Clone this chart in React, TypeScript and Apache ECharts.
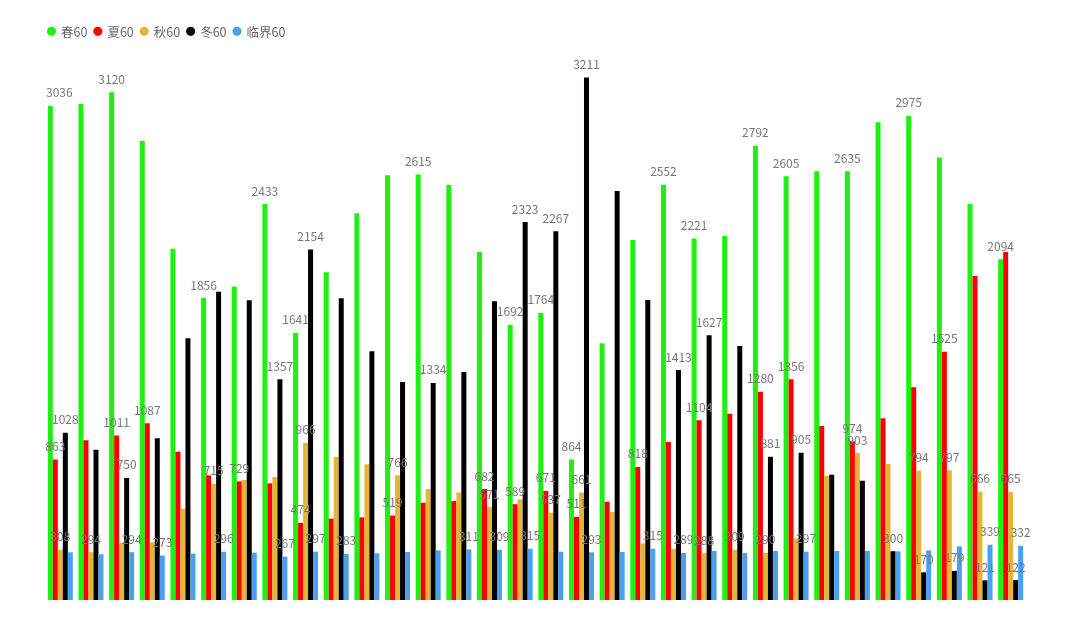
import { useEffect, useRef } from 'react';
import * as echarts from 'echarts';

const categories = ['1','2','3','4','5','6','7','8','9','10','11','12','13','14','15','16','17','18','19','20','21','22','23','24','25','26','27','28','29','30','31','32'];

const seriesNames = ['春60', '夏60', '秋60', '冬60', '临界60'];

const springValues = [3036, 3049, 3120, 2821, 2158, 1856, 1926, 2433, 1641, 2014, 2377, 2610, 2615, 2551, 2139, 1692, 1764, 864, 1578, 2213, 2552, 2221, 2237, 2792, 2605, 2635, 2635, 2936, 2975, 2719, 2434, 2094];
const summerValues = [863, 982, 1011, 1087, 911, 766, 729, 717, 474, 500, 508, 519, 598, 608, 682, 589, 671, 511, 604, 818, 971, 1104, 1145, 1280, 1356, 1069, 974, 1117, 1307, 1525, 1991, 2139];
const autumnValues = [308, 294, 352, 355, 561, 715, 738, 756, 966, 879, 834, 766, 682, 662, 571, 619, 537, 661, 541, 348, 314, 288, 309, 290, 379, 762, 903, 836, 794, 797, 666, 665];
const winterValues = [1028, 924, 750, 994, 1608, 1895, 1842, 1357, 2154, 1854, 1529, 1340, 1334, 1401, 1836, 2323, 2267, 3211, 2514, 1844, 1413, 1627, 1561, 881, 905, 770, 733, 300, 170, 179, 121, 122];
const criticalValues = [293, 281, 294, 273, 285, 296, 291, 267, 297, 283, 287, 295, 305, 311, 309, 315, 297, 293, 295, 315, 289, 301, 289, 301, 297, 301, 301, 299, 305, 330, 339, 332];

// which value labels are visible in the reference (1 = shown)
const springLabels = [1,0,1,0,0,1,0,1,1,0,0,0,1,0,0,1,1,1,0,0,1,1,0,1,1,0,1,0,1,0,0,1];
const summerLabels = [1,0,1,1,0,0,1,0,1,0,0,1,0,0,1,1,1,1,0,1,0,1,0,1,1,0,1,0,0,1,0,0];
const autumnLabels = [1,1,0,0,0,1,0,0,1,0,0,1,0,0,1,0,1,1,0,0,0,1,1,1,0,0,1,0,1,1,1,1];
const winterLabels = [1,0,1,0,0,0,0,1,1,0,0,0,1,0,0,1,1,1,0,0,1,1,0,1,1,0,0,1,1,1,1,1];
const criticalLabels = [0,0,1,1,0,1,0,1,1,1,0,0,0,1,1,1,0,1,0,1,1,0,0,0,1,0,0,0,0,0,1,1];

const seriesValues = [springValues, summerValues, autumnValues, winterValues, criticalValues];
const seriesLabels = [springLabels, summerLabels, autumnLabels, winterLabels, criticalLabels];
const seriesColors = ['#1ff00f', '#ff0000', '#e5b53a', '#000000', '#4aa0f0'];

export default function App() {
  const ref = useRef<HTMLDivElement>(null);
  useEffect(() => {
    if (!ref.current) return;
    const chart = echarts.init(ref.current, undefined, { renderer: 'svg' });
    const font = "'Noto Sans CJK SC', 'Noto Sans', sans-serif";
    chart.setOption({
      animation: false,
      color: seriesColors,
      legend: {
        left: 42,
        top: 20,
        icon: 'circle',
        itemWidth: 9,
        itemHeight: 9,
        itemGap: 6,
        textStyle: { color: '#666', fontSize: 12.5, fontFamily: font },
        data: seriesNames,
      },
      grid: { left: 45, right: 54, top: 30.5, bottom: 25 },
      xAxis: { type: 'category', data: categories, show: false },
      yAxis: { type: 'value', min: 0, max: 3500, show: false },
      series: seriesNames.map((name, s) => ({
        name,
        type: 'bar',
        barWidth: 5,
        barGap: '0%',
        itemStyle: { color: seriesColors[s] },
        label: {
          position: 'top',
          distance: 8,
          color: '#777',
          fontSize: 12,
          fontFamily: font,
        },
        data: seriesValues[s].map((v, i) => ({
          value: v,
          label: s === 0 && i === 0
            ? { show: seriesLabels[s][i] === 1, offset: [9, 0] }
            : { show: seriesLabels[s][i] === 1 },
        })),
      })),
    });
    return () => chart.dispose();
  }, []);
  return <div ref={ref} style={{ position: 'fixed', left: 0, top: 0, width: 1080, height: 625 }} />;
}
